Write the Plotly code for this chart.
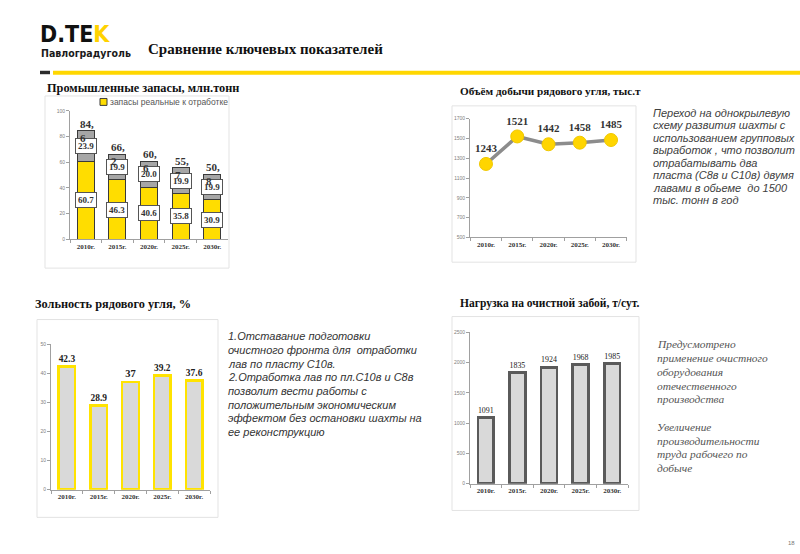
import plotly.graph_objects as go

W, H = 800, 554
def px(x): return x / W
def py(y): return 1 - y / H

years = ["2010г.", "2015г.", "2020г.", "2025г.", "2030г."]

# Chart 1: industrial reserves (mln t)
reserves_real = [60.7, 46.3, 40.6, 35.8, 30.9]
reserves_other = [23.9, 19.9, 20.0, 19.9, 19.9]

# Chart 2: run-of-mine coal output (thous. t)
output = [1243, 1521, 1442, 1458, 1485]

# Chart 3: ash content (%)
ash = [42.3, 28.9, 37, 39.2, 37.6]

# Chart 4: face load (t/day)
load = [1091, 1835, 1924, 1968, 1985]

legend_label = "запасы реальные к отработке"

YELLOW = "#ffdd00"
SERIF = "Liberation Serif"
SANS = "Liberation Sans"
NARROW = "DejaVu Sans Condensed, Liberation Sans"

fig = go.Figure()

# ---- Chart 1
fig.add_trace(go.Bar(x=years, y=reserves_real, width=0.54, name=legend_label,
                     marker=dict(color=YELLOW, line=dict(color="#3a3a3a", width=1)),
                     xaxis="x", yaxis="y", showlegend=False))
fig.add_trace(go.Bar(x=years, y=reserves_other, width=0.54, name="прочие",
                     marker=dict(color="#a6a6a6", line=dict(color="#3a3a3a", width=1)),
                     xaxis="x", yaxis="y", showlegend=False))

# ---- Chart 2
fig.add_trace(go.Scatter(x=years, y=output, mode="lines+markers+text",
                         text=[str(v) for v in output], textposition="top center",
                         textfont=dict(family=SERIF, size=11, color="#333333", weight="bold"),
                         line=dict(color="#8c8c8c", width=3.5),
                         marker=dict(color="#ffd500", size=13, line=dict(color="#f0c800", width=1)),
                         xaxis="x2", yaxis="y2", showlegend=False, cliponaxis=False))

# ---- Chart 3
fig.add_trace(go.Bar(x=years, y=ash, width=0.52, text=[str(v) for v in ash],
                     textposition="outside",
                     textfont=dict(family=SERIF, size=10.5, color="#222222", weight="bold"),
                     marker=dict(color="#d9d9d9", line=dict(color="#ffe300", width=2.5)),
                     xaxis="x3", yaxis="y3", showlegend=False, cliponaxis=False))

# ---- Chart 4
fig.add_trace(go.Bar(x=years, y=load, width=0.5, text=[str(v) for v in load],
                     textposition="outside",
                     textfont=dict(family=SERIF, size=12, color="#222222"),
                     marker=dict(color="#d9d9d9", line=dict(color="#5a5a5a", width=2.5)),
                     xaxis="x4", yaxis="y4", showlegend=False, cliponaxis=False))

def xax(dom, anchor):
    return dict(domain=dom, anchor=anchor, showline=True, linecolor="#a0a0a0", linewidth=1,
                ticks="outside", ticklen=3, tickcolor="#a0a0a0", tickson="boundaries",
                tickfont=dict(family=SERIF, size=7, color="#333333", weight="bold"),
                showgrid=False, zeroline=False, fixedrange=True)

def yax(dom, anchor, rng, dtick, tick0=0):
    return dict(domain=dom, anchor=anchor, range=rng, dtick=dtick, tick0=tick0,
                showline=True, linecolor="#a0a0a0", linewidth=1,
                ticks="outside", ticklen=3, tickcolor="#a0a0a0",
                tickfont=dict(family=SANS, size=5, color="#808080"),
                showgrid=False, zeroline=False, fixedrange=True)

layout = dict(
    width=W, height=H, margin=dict(l=0, r=0, t=0, b=0),
    paper_bgcolor="white", plot_bgcolor="rgba(0,0,0,0)",
    barmode="stack", showlegend=False,
    xaxis=xax([px(70), px(228)], "y"),
    yaxis=yax([py(239), py(109)], "x", [0, 100], 20),
    xaxis2=xax([px(470), px(627)], "y2"),
    yaxis2=yax([py(237), py(117)], "x2", [500, 1700], 200, 500),
    xaxis3=xax([px(51), px(210)], "y3"),
    yaxis3=yax([py(492), py(345)], "x3", [0, 50], 10),
    xaxis4=xax([px(470), px(628)], "y4"),
    yaxis4=yax([py(486), py(333)], "x4", [0, 2500], 500),
    font=dict(family=SANS),
)
fig.update_layout(**layout)

shapes = []
# frames around charts
for (x0, y0, x1, y1) in [(45, 94, 229, 268), (452, 104, 636, 262), (37, 320, 218, 520), (452, 317, 639, 513)]:
    shapes.append(dict(type="rect", xref="paper", yref="paper", x0=px(x0), x1=px(x1), y0=py(y1), y1=py(y0),
                       line=dict(color="#e3e3e3", width=1), fillcolor="rgba(0,0,0,0)", layer="below"))
# header separator
shapes.append(dict(type="rect", xref="paper", yref="paper", x0=px(40), x1=px(50), y0=py(72), y1=py(68.5),
                   line=dict(width=0), fillcolor="#2b2b2b"))
shapes.append(dict(type="rect", xref="paper", yref="paper", x0=px(53), x1=px(800), y0=py(72.5), y1=py(68.5),
                   line=dict(width=0), fillcolor="#ffd700"))
# legend key for chart 1
shapes.append(dict(type="rect", xref="paper", yref="paper", x0=px(100), x1=px(107), y0=py(103.5), y1=py(96.5),
                   line=dict(color="#3a3a3a", width=1), fillcolor=YELLOW))
fig.update_layout(shapes=shapes)

ann = []
# value boxes in chart 1
for cat, a, b in zip(years, reserves_real, reserves_other):
    ann.append(dict(x=cat, y=a / 2, xref="x", yref="y", text=f"{a:.1f}", showarrow=False,
                    font=dict(family=SERIF, size=9, color="#333333", weight="bold"),
                    bgcolor="white", bordercolor="#555555", borderwidth=1, borderpad=2))
    ann.append(dict(x=cat, y=a + b / 2, xref="x", yref="y", text=f"{b:.1f}", showarrow=False,
                    font=dict(family=SERIF, size=9, color="#333333", weight="bold"),
                    bgcolor="white", bordercolor="#555555", borderwidth=1, borderpad=2))
    tot = f"{a + b:.1f}".replace(".", ",")
    ann.append(dict(x=cat, y=a + b, xref="x", yref="y", text=tot[:3] + "<br>" + tot[3:], showarrow=False,
                    align="left", yanchor="middle", xshift=1,
                    font=dict(family=SERIF, size=11, color="#333333", weight="bold")))

def txt(x, y, s, size, family, color="#222222", bold=False, italic=False, anchor="left", yanchor="middle"):
    t = s
    if bold:
        t = "<b>" + t + "</b>"
    if italic:
        t = "<i>" + t + "</i>"
    ann.append(dict(x=px(x), y=py(y), xref="paper", yref="paper", text=t, showarrow=False,
                    xanchor=anchor, yanchor=yanchor, align="left",
                    font=dict(family=family, size=size, color=color)))

txt(108, 100, legend_label, 8.5, SANS, "#555555")

# logo
ann.append(dict(x=px(38), y=py(31), xref="paper", yref="paper", showarrow=False, xanchor="left", yanchor="middle",
                text="<b>D.TE<span style='color:#ffd200'>K</span></b>",
                font=dict(family=NARROW, size=23, color="#111111")))
txt(39, 51, "Павлоградуголь", 10.5, NARROW, "#1a1a1a", bold=True)
txt(146, 46, "Сравнение ключевых показателей", 15, SERIF, "#111111", bold=True)

# chart titles
txt(45, 86, "Промышленные запасы, млн.тонн", 12.3, SERIF, "#111111", bold=True)
txt(458, 89, "Объём добычи рядового угля, тыс.т", 11.2, SERIF, "#111111", bold=True)
txt(33, 304, "Зольность рядового угля, %", 12.3, SERIF, "#111111", bold=True)
txt(458, 304, "Нагрузка на очистной забой, т/сут.", 11.5, SERIF, "#111111", bold=True)

note1 = ["Переход на однокрылевую", "схему развития шахты с", "использованием групповых",
         "выработок , что позволит", "отрабатывать два", "пласта (С8в и С10в) двумя",
         "лавами в обьеме  до 1500", "тыс. тонн в год"]
for i, s in enumerate(note1):
    txt(651, 111 + i * 12.6, s, 11, SANS, "#404040", italic=True)

note2 = ["1.Отставание подготовки", "очистного фронта для  отработки", "лав по пласту С10в.",
         "2.Отработка лав по пл.С10в и С8в", "позволит вести работы с", "положительным экономическим",
         "эффектом без остановки шахты на", "ее реконструкцию"]
for i, s in enumerate(note2):
    txt(226, 337 + i * 13.8, s, 11, SANS, "#333333", italic=True)

note3 = ["Предусмотрено", "применение очистного", "оборудования", "отечественного", "производства", "",
         "Увеличение", "производительности", "труда рабочего по", "добыче"]
for i, s in enumerate(note3):
    if s:
        txt(655, 345 + i * 13.9, s, 11.4, SERIF, "#555555", italic=True)

txt(786, 546, "18", 6, SANS, "#777777")

fig.update_layout(annotations=ann)
fig.write_html("out.html", config={"displayModeBar": False},
               post_script="document.body.style.margin='0';document.body.style.overflow='hidden';")
